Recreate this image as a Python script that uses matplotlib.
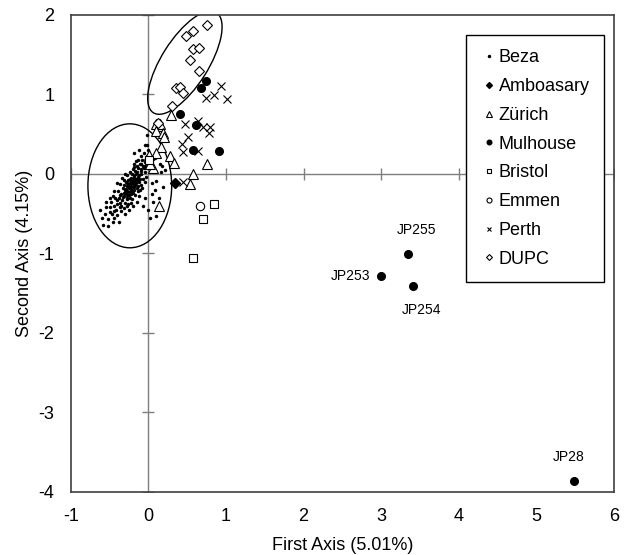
import matplotlib
matplotlib.use('Agg')
import matplotlib.pyplot as plt
from matplotlib.patches import Ellipse

plt.rcParams['font.family'] = ['Liberation Sans', 'DejaVu Sans']
plt.rcParams['axes.unicode_minus'] = False

# --- data ---
beza_pts = [
    (-0.25, -0.18), (-0.22, -0.15), (-0.20, -0.12), (-0.18, -0.10), (-0.23, -0.20),
    (-0.27, -0.22), (-0.19, -0.17), (-0.21, -0.08), (-0.16, -0.06), (-0.24, -0.12),
    (-0.28, -0.15), (-0.26, -0.26), (-0.20, -0.24), (-0.17, -0.14), (-0.14, -0.09),
    (-0.12, -0.02), (-0.15, 0.02), (-0.19, -0.02), (-0.23, -0.05), (-0.30, -0.20),
    (-0.31, -0.28), (-0.28, -0.32), (-0.24, -0.30), (-0.22, -0.25), (-0.18, -0.20),
    (-0.13, -0.15), (-0.11, -0.06), (-0.09, 0.00), (-0.10, 0.06), (-0.13, 0.08),
    (-0.17, 0.04), (-0.21, 0.00), (-0.26, -0.08), (-0.29, -0.10), (-0.33, -0.18),
    (-0.35, -0.25), (-0.34, -0.33), (-0.30, -0.36), (-0.26, -0.38), (-0.21, -0.32),
    (-0.17, -0.27), (-0.14, -0.22), (-0.10, -0.14), (-0.07, -0.07), (-0.05, 0.02),
    (-0.07, 0.10), (-0.11, 0.13), (-0.15, 0.10), (-0.20, 0.06), (-0.24, 0.02),
    (-0.38, -0.30), (-0.40, -0.38), (-0.37, -0.42), (-0.42, -0.45), (-0.45, -0.40),
    (-0.47, -0.50), (-0.44, -0.55), (-0.50, -0.48), (-0.52, -0.57), (-0.40, -0.52),
    (-0.35, -0.47), (-0.32, -0.43), (-0.48, -0.35), (-0.43, -0.30), (-0.39, -0.22),
    (-0.36, -0.13), (-0.32, -0.08), (-0.27, -0.02), (-0.30, 0.00), (-0.34, -0.05),
    (-0.08, 0.18), (-0.04, 0.15), (-0.02, 0.22), (-0.06, 0.26), (-0.10, 0.22),
    (-0.13, 0.18), (-0.16, 0.16), (-0.19, 0.12), (-0.12, 0.30), (-0.19, 0.26),
    (-0.02, 0.36), (-0.05, 0.36), (-0.02, 0.49), (0.00, 0.30), (-0.01, 0.08),
    (0.02, 0.12), (0.03, 0.05), (-0.03, -0.04), (-0.05, -0.10), (-0.08, -0.18),
    (0.15, 0.13), (0.18, 0.10), (0.16, 0.03), (0.22, 0.05), (0.10, -0.09),
    (0.19, -0.16), (0.08, -0.20), (0.14, -0.30), (0.14, -0.40), (0.00, -0.45),
    (0.10, -0.53), (0.02, -0.56), (0.06, -0.35), (-0.04, -0.30), (-0.07, -0.40),
    (0.04, -0.12), (-0.52, -0.66), (-0.46, -0.60), (-0.58, -0.64), (-0.56, -0.50),
    (-0.55, -0.42), (-0.50, -0.30), (-0.60, -0.55), (-0.38, -0.60), (-0.30, -0.50),
    (-0.25, -0.45), (-0.20, -0.40), (-0.15, -0.35), (-0.12, -0.28), (-0.44, -0.22),
    (-0.40, -0.12), (-0.46, -0.28), (-0.24, -0.16), (-0.22, -0.19), (-0.20, -0.16),
    (-0.26, -0.14), (-0.21, -0.11), (-0.19, -0.07), (-0.16, -0.11), (-0.25, -0.23),
    (-0.28, -0.26), (-0.23, -0.09), (-0.18, -0.04), (-0.14, -0.04), (-0.12, -0.10),
    (-0.27, -0.30), (-0.32, -0.24), (-0.29, -0.19), (-0.15, -0.18), (-0.11, -0.20),
    (-0.31, -0.14), (-0.36, -0.36), (-0.33, -0.29), (-0.29, -0.24), (-0.25, -0.27),
    (-0.23, -0.22), (-0.21, -0.21), (-0.19, -0.13), (-0.17, -0.08), (-0.24, -0.07),
    (-0.27, -0.12), (-0.13, -0.05), (-0.16, 0.00), (-0.09, 0.04), (-0.37, -0.27),
    (-0.41, -0.33), (-0.45, -0.47), (-0.49, -0.42), (-0.35, -0.40), (-0.28, -0.40),
    (-0.22, -0.36), (-0.06, 0.07), (-0.04, 0.10), (-0.09, 0.12), (-0.18, 0.09),
    (0.08, 0.20), (0.05, -0.25), (0.11, -0.44), (-0.62, -0.45), (-0.55, -0.35),
]
beza_x = [p[0] for p in beza_pts]
beza_y = [p[1] for p in beza_pts]

amboasary_x = [0.34]
amboasary_y = [-0.12]

zurich_x = [0.29, 0.10, 0.13, 0.15, 0.10, 0.19, 0.20, 0.16, 0.10, 0.01, 0.28, 0.33,
            0.76, 0.58, 0.53, 0.06, 0.13, 0.02]
zurich_y = [0.74, 0.63, 0.60, 0.63, 0.54, 0.52, 0.46, 0.34, 0.26, 0.24, 0.22, 0.14,
            0.12, 0.00, -0.13, 0.07, -0.40, 0.13]

mulhouse_x = [0.74, 0.68, 0.41, 0.61, 0.58, 0.91, 3.35, 3.00, 3.41, 5.49]
mulhouse_y = [1.17, 1.08, 0.76, 0.62, 0.30, 0.29, -1.01, -1.29, -1.41, -3.86]

bristol_x = [0.85, 0.70, 0.57, 0.01]
bristol_y = [-0.38, -0.57, -1.06, 0.17]

emmen_x = [0.66]
emmen_y = [-0.40]

perth_x = [0.93, 0.84, 0.74, 1.01, 0.47, 0.64, 0.70, 0.79, 0.78, 0.51, 0.43, 0.45,
           0.64, 0.45]
perth_y = [1.11, 0.99, 0.96, 0.94, 0.63, 0.67, 0.59, 0.59, 0.52, 0.46, 0.38, 0.28,
           0.29, -0.10]

dupc_x = [0.75, 0.57, 0.49, 0.58, 0.65, 0.53, 0.65, 0.36, 0.41, 0.45, 0.30, 0.12]
dupc_y = [1.87, 1.80, 1.74, 1.57, 1.58, 1.43, 1.30, 1.08, 1.09, 1.02, 0.85, 0.64]

# labelled outliers (Mulhouse)
jp_names = ['JP255', 'JP253', 'JP254', 'JP28']
jp_x = [3.35, 3.00, 3.41, 5.49]
jp_y = [-1.01, -1.29, -1.41, -3.86]
jp_offsets = [(6, 12), (-8, 0), (6, -12), (-4, 12)]
jp_align = [('center', 'bottom'), ('right', 'center'), ('center', 'top'), ('center', 'bottom')]

x_ticks = [-1, 0, 1, 2, 3, 4, 5, 6]
y_ticks = [-4, -3, -2, -1, 0, 1, 2]

fig = plt.figure(figsize=(6.27, 5.55), dpi=100)
ax = fig.add_axes([0.113, 0.114, 0.866, 0.859])

ax.set_xlim(-1, 6)
ax.set_ylim(-4, 2)

# zero lines with cross ticks
ax.axhline(0, color='#7f7f7f', lw=1, zorder=1)
ax.axvline(0, color='#7f7f7f', lw=1, zorder=1)
ax.plot([t for t in x_ticks if t != 0], [0] * (len(x_ticks) - 1), ls='none',
        marker='|', ms=9, mew=1, color='#7f7f7f', zorder=1)
ax.plot([0] * (len(y_ticks) - 1), [t for t in y_ticks if t != 0], ls='none',
        marker='_', ms=9, mew=1, color='#7f7f7f', zorder=1)

# ellipses
ax.add_patch(Ellipse((-0.24, -0.15), 1.08, 1.56, angle=0, fill=False,
                     ec='black', lw=1, zorder=2))
ax.add_patch(Ellipse((0.47, 1.40), 1.50, 0.60, angle=57, fill=False,
                     ec='black', lw=1, zorder=2))

k = dict(ls='none', color='black', zorder=3)
ax.plot(beza_x, beza_y, marker='o', ms=2.5, mew=0, label='Beza', **k)
ax.plot(amboasary_x, amboasary_y, marker='D', ms=5, label='Amboasary', **k)
ax.plot(zurich_x, zurich_y, marker='^', ms=7, mfc='white', mew=0.8, label='Zürich', **k)
ax.plot(mulhouse_x, mulhouse_y, marker='o', ms=5.5, label='Mulhouse', **k)
ax.plot(bristol_x, bristol_y, marker='s', ms=5.5, mfc='white', mew=0.8, label='Bristol', **k)
ax.plot(emmen_x, emmen_y, marker='o', ms=6, mfc='white', mew=0.8, label='Emmen', **k)
ax.plot(perth_x, perth_y, marker='x', ms=5.5, mew=0.8, label='Perth', **k)
ax.plot(dupc_x, dupc_y, marker='D', ms=5, mfc='white', mew=0.8, label='DUPC', **k)

for name, x, y, off, al in zip(jp_names, jp_x, jp_y, jp_offsets, jp_align):
    ax.annotate(name, (x, y), xytext=off, textcoords='offset points',
                ha=al[0], va=al[1], fontsize=10)

ax.set_xticks(x_ticks)
ax.set_yticks(y_ticks)
ax.tick_params(length=0, labelsize=13, pad=12)
for s in ax.spines.values():
    s.set_color('#404040')
    s.set_linewidth(1.2)

ax.set_xlabel('First Axis (5.01%)', fontsize=13, labelpad=8)
ax.set_ylabel('Second Axis (4.15%)', fontsize=13, labelpad=4)

leg = ax.legend(loc='upper right', bbox_to_anchor=(0.982, 0.958), borderaxespad=0,
                fontsize=13, markerscale=0.6, handlelength=0.9, handletextpad=0.1,
                borderpad=0.8, labelspacing=0.65, fancybox=False, framealpha=1,
                edgecolor='black')
leg.get_frame().set_linewidth(1)
for h in leg.legend_handles:
    if h.get_label() == 'Beza':
        h.set_markersize(2.5)

fig.savefig('out.png', dpi=100)
